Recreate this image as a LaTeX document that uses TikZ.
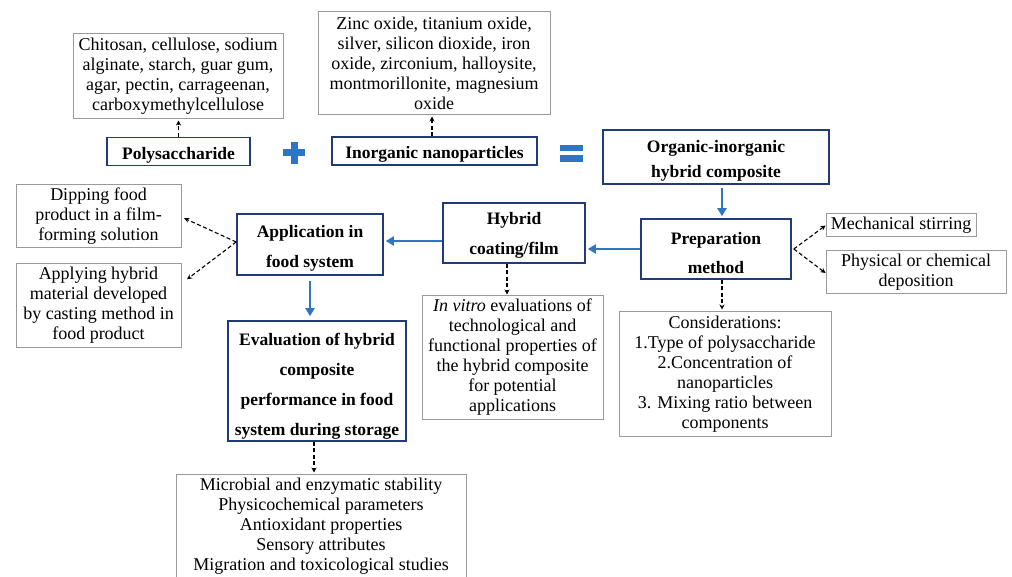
\documentclass[tikz,border=0pt]{standalone}
\usepackage{fontspec}
\setmainfont{Liberation Serif}
\usetikzlibrary{arrows.meta}
\definecolor{navy}{HTML}{1F3C78}
\definecolor{arrowblue}{HTML}{2E75C6}
\definecolor{boxgray}{HTML}{9A9A9A}
\newcommand{\topstrut}[1]{\rule{0pt}{#1}}
\begin{document}
\begin{tikzpicture}[x=1pt,y=-1pt,
  graybox/.style={draw=boxgray, line width=1pt, fill=white, align=center, inner sep=0pt, font=\fontsize{18}{20}\selectfont},
  bluebox/.style={draw=navy, line width=1.6pt, fill=white, align=center, inner sep=0pt, font=\bfseries\fontsize{17.5}{30}\selectfont},
  blueflow/.style={draw=arrowblue, line width=2.4pt, -{Triangle[length=8pt,width=9pt]}},
  dasharrow/.style={draw=black, line width=1.1pt, dash pattern=on 4pt off 2.5pt, -{Stealth[length=5pt,width=5pt]}},
  signbar/.style={fill=arrowblue, draw=none}
]
\useasboundingbox (0,0) rectangle (1012,577);
\fill[white] (0,0) rectangle (1012,577);

% top row
\node[graybox, minimum width=210pt, minimum height=85pt] (chit) at (178,76.5)
  {Chitosan, cellulose, sodium\\alginate, starch, guar gum,\\agar, pectin, carrageenan,\\carboxymethylcellulose};
\node[graybox, minimum width=232pt, minimum height=103pt] (zinc) at (434,63.5)
  {Zinc oxide, titanium oxide,\\silver, silicon dioxide, iron\\oxide, zirconium, halloysite,\\montmorillonite, magnesium\\oxide};

\node[bluebox, minimum width=143pt, minimum height=28pt] (poly) at (178.5,151.5) {\topstrut{19.5pt}Polysaccharide};
\node[bluebox, minimum width=205pt, minimum height=28pt] (inorg) at (434.5,151) {\topstrut{19.5pt}Inorganic nanoparticles};
\node[bluebox, minimum width=226pt, minimum height=54pt, font=\bfseries\fontsize{17.5}{25}\selectfont] (org) at (716,157)
  {\topstrut{20.5pt}Organic-inorganic\\hybrid composite};

% plus and equals
\coordinate (plus) at (294,153);
\fill[signbar] ([xshift=-11pt,yshift=-3.5pt]plus) rectangle ([xshift=11pt,yshift=3.5pt]plus);
\fill[signbar] ([xshift=-3.5pt,yshift=-11pt]plus) rectangle ([xshift=3.5pt,yshift=11pt]plus);
\coordinate (eq) at (571.5,153.5);
\fill[signbar] ([xshift=-11.5pt,yshift=2pt]eq) rectangle ([xshift=11.5pt,yshift=8.5pt]eq);
\fill[signbar] ([xshift=-11.5pt,yshift=-2pt]eq) rectangle ([xshift=11.5pt,yshift=-8.5pt]eq);

% middle row
\node[bluebox, minimum width=150pt, minimum height=60pt, font=\bfseries\fontsize{17.5}{29}\selectfont] (prep) at (716,249) {\topstrut{20.5pt}Preparation\\method};
\node[graybox, minimum width=150pt, minimum height=23pt] (mech) at (901,225.5) {Mechanical stirring};
\node[graybox, minimum width=180pt, minimum height=43pt] (phys) at (916,272.5) {Physical or chemical\\deposition};
\node[bluebox, minimum width=142pt, minimum height=60pt] (hyb) at (514,233) {\topstrut{16.5pt}Hybrid\\coating/film};
\node[bluebox, minimum width=146pt, minimum height=61pt] (app) at (310,244.5) {\topstrut{19.5pt}Application in\\food system};
\node[graybox, minimum width=165pt, minimum height=63pt] (dip) at (98.5,216.5) {Dipping food\\product in a film-\\forming solution};
\node[graybox, minimum width=165pt, minimum height=83pt] (apl) at (98.5,305.5) {Applying hybrid\\material developed\\by casting method in\\food product};

% lower row
\node[bluebox, minimum width=178pt, minimum height=120pt] (eval) at (317,381)
  {\topstrut{22pt}Evaluation of hybrid\\composite\\performance in food\\system during storage};
\node[graybox, minimum width=181pt, minimum height=123pt] (invitro) at (512.5,357.5)
  {\textit{In vitro} evaluations of\\technological and\\functional properties of\\the hybrid composite\\for potential\\applications};
\node[graybox, minimum width=212pt, minimum height=124pt] (cons) at (725,374)
  {Considerations:\\1.Type of polysaccharide\\2.Concentration of\\nanoparticles\\3. Mixing ratio between\\components};
\node[graybox, minimum width=290pt, minimum height=104pt] (bottom) at (321,526)
  {Microbial and enzymatic stability\\Physicochemical parameters\\Antioxidant properties\\Sensory attributes\\Migration and toxicological studies};

% blue flow arrows
\draw[blueflow, shorten <=3pt, shorten >=2pt] ([xshift=6pt]org.south) -- ([xshift=6pt]prep.north);
\draw[blueflow, shorten >=2pt] (prep.west) -- (prep.west -| hyb.east);
\draw[blueflow, shorten >=2pt] ([yshift=3.5pt]app.east -| hyb.west) -- ([yshift=3.5pt]app.east);
\draw[blueflow, shorten <=5pt, shorten >=4pt] (app.south) -- (app.south |- eval.north);

% dashed arrows
\draw[dasharrow, shorten >=1pt] (poly.north) -- (poly.north |- chit.south);
\draw[dasharrow, shorten >=1pt] ([xshift=-2.5pt]inorg.north) -- ([xshift=-2.5pt]inorg.north |- zinc.south);
\coordinate (prepR) at ([xshift=2pt]prep.east);
\draw[dasharrow] (prepR) -- (mech.west);
\draw[dasharrow] (prepR) -- ([yshift=-0.5pt]phys.west);
\coordinate (appL) at ([yshift=2.5pt]app.west);
\draw[dasharrow, shorten >=3pt] (appL) -- ([yshift=-0.5pt]dip.east);
\draw[dasharrow, shorten >=7pt] (appL) -- ([yshift=22pt]apl.east);
\draw[dasharrow, shorten >=1pt] ([xshift=-7pt]hyb.south) -- ([xshift=-7pt]hyb.south |- invitro.north);
\draw[dasharrow, shorten >=2pt] ([xshift=6pt]prep.south) -- ([xshift=6pt]prep.south |- cons.north);
\draw[dasharrow, shorten >=1pt] ([xshift=-3pt]eval.south) -- ([xshift=-3pt]eval.south |- bottom.north);
\end{tikzpicture}
\end{document}
